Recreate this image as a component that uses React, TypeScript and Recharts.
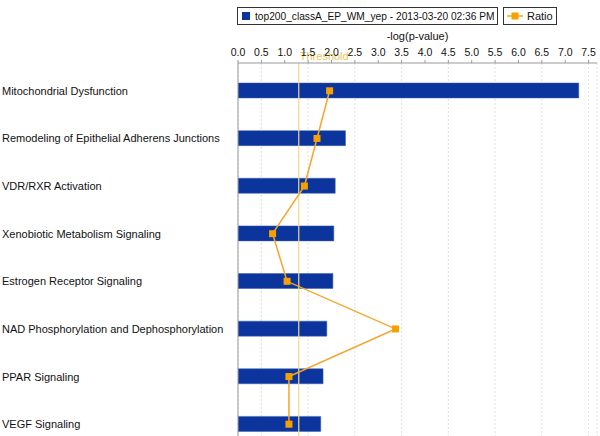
import {
  ComposedChart,
  Bar,
  Line,
  XAxis,
  YAxis,
  CartesianGrid,
  ReferenceLine,
} from 'recharts';

const PATHWAYS = [
  'Mitochondrial Dysfunction',
  'Remodeling of Epithelial Adherens Junctions',
  'VDR/RXR Activation',
  'Xenobiotic Metabolism Signaling',
  'Estrogen Receptor Signaling',
  'NAD Phosphorylation and Dephosphorylation',
  'PPAR Signaling',
  'VEGF Signaling',
];

const NEG_LOG_P = [7.29, 2.3, 2.08, 2.05, 2.03, 1.9, 1.82, 1.77];

// ratio as drawn against the -log(p) scale
const RATIO = [1.96, 1.69, 1.42, 0.74, 1.05, 3.37, 1.09, 1.09];

const X_TICKS = [0, 0.5, 1, 1.5, 2, 2.5, 3, 3.5, 4, 4.5, 5, 5.5, 6, 6.5, 7, 7.5];

const THRESHOLD = 1.3;
const SERIES_NAME = 'top200_classA_EP_WM_yep - 2013-03-20 02:36 PM';

const BAR_COLOR = '#0b359c';
const RATIO_COLOR = '#f5a62a';
const FONT = '"Liberation Sans", Arial, sans-serif';

const data = PATHWAYS.map((name, i) => ({
  name,
  pvalue: NEG_LOG_P[i],
  ratio: RATIO[i],
}));

function PathwayTick({ y, payload }: any) {
  return (
    <text x={2} y={y} dy={4} textAnchor="start" fontSize={11} fill="#111" fontFamily={FONT}>
      {payload.value}
    </text>
  );
}

function SquareDot({ cx, cy }: any) {
  if (cx == null || cy == null) return null;
  return <rect x={cx - 3.5} y={cy - 3.5} width={7} height={7} fill="#f7a100" />;
}

function ThresholdLabel({ viewBox }: any) {
  return (
    <text x={viewBox.x + 1} y={viewBox.y - 3} fontSize={11} fill="#eac55a" fontFamily={FONT}>
      Threshold
    </text>
  );
}

export default function App() {
  return (
    <div
      style={{
        position: 'fixed',
        left: 0,
        top: 0,
        width: 600,
        height: 436,
        overflow: 'hidden',
        background: '#fff',
        fontFamily: FONT,
      }}
    >
      <div
        style={{
          position: 'absolute',
          left: 237,
          top: 7,
          width: 259,
          height: 16,
          border: '1px solid #333',
          display: 'flex',
          alignItems: 'center',
          fontSize: 10.2,
          color: '#111',
          whiteSpace: 'nowrap',
          overflow: 'hidden',
        }}
      >
        <span style={{ width: 8, height: 8, background: BAR_COLOR, margin: '0 5px 0 4px', flexShrink: 0 }} />
        {SERIES_NAME}
      </div>
      <div
        style={{
          position: 'absolute',
          left: 503,
          top: 7,
          width: 52,
          height: 16,
          border: '1px solid #333',
          display: 'flex',
          alignItems: 'center',
          fontSize: 11,
          color: '#111',
        }}
      >
        <svg width={16} height={10} style={{ margin: '0 4px 0 3px' }}>
          <line x1={0} y1={5} x2={16} y2={5} stroke={RATIO_COLOR} strokeWidth={1.5} />
          <rect x={4.5} y={1.5} width={7} height={7} fill="#f7a100" />
        </svg>
        Ratio
      </div>
      <div
        style={{
          position: 'absolute',
          left: 238,
          width: 359,
          top: 30,
          textAlign: 'center',
          fontSize: 11,
          color: '#111',
        }}
      >
        -log(p-value)
      </div>
      <ComposedChart
        layout="vertical"
        width={600}
        height={448}
        data={data}
        margin={{ top: 0, right: 3, bottom: 0, left: 0 }}
        style={{ position: 'absolute', left: 0, top: 0 }}
      >
        <CartesianGrid horizontal={false} stroke="#dedede" strokeDasharray="2 2" />
        <XAxis
          type="number"
          orientation="top"
          height={63}
          domain={[0, 7.68]}
          ticks={X_TICKS}
          tickFormatter={(v: number) => v.toFixed(1)}
          axisLine={{ stroke: '#999' }}
          tickLine={{ stroke: '#999' }}
          tickSize={3}
          tickMargin={4}
          tick={{ fontSize: 10.5, fill: '#111', fontFamily: FONT }}
          allowDataOverflow
        />
        <YAxis
          type="category"
          dataKey="name"
          width={238}
          padding={{ top: 4, bottom: 0 }}
          axisLine={{ stroke: '#999' }}
          tickLine={false}
          tick={<PathwayTick />}
          interval={0}
        />
        <ReferenceLine x={THRESHOLD} stroke="#f2d98a" strokeWidth={1.2} label={<ThresholdLabel />} />
        <Bar dataKey="pvalue" fill={BAR_COLOR} stroke="#3b5fb8" strokeWidth={0.5} barSize={15} isAnimationActive={false} />
        <Line
          dataKey="ratio"
          stroke={RATIO_COLOR}
          strokeWidth={1.5}
          dot={<SquareDot />}
          activeDot={false}
          isAnimationActive={false}
        />
      </ComposedChart>
    </div>
  );
}
